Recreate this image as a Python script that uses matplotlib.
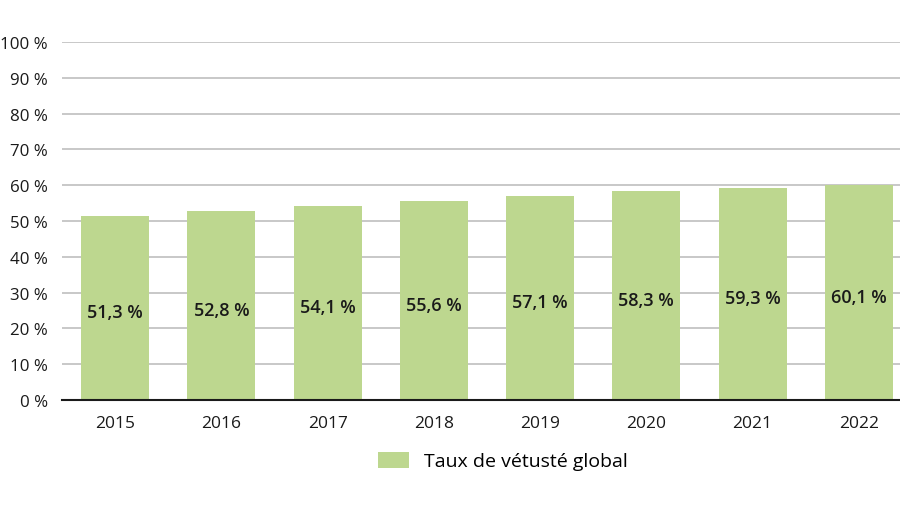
import matplotlib
matplotlib.use("Agg")
import matplotlib.pyplot as plt
from matplotlib.patches import Patch

years = ["2015", "2016", "2017", "2018", "2019", "2020", "2021", "2022"]
values = [51.3, 52.8, 54.1, 55.6, 57.1, 58.3, 59.3, 60.1]
series_name = "Taux de vétusté global"
yticks = [0, 10, 20, 30, 40, 50, 60, 70, 80, 90, 100]

plt.rcParams['font.family'] = ['Open Sans', 'DejaVu Sans']
color = "#bdd78f"

fig = plt.figure(figsize=(9, 5.06), dpi=100)
ax = fig.add_axes([62/900, 1 - 401/506, 850/900, 358/506])
x = list(range(len(years)))
ax.bar(x, values, width=0.64, color=color, zorder=2)
for xi, v in zip(x, values):
    ax.text(xi, v / 2 - 1.2, f"{v:.1f}".replace(".", ",") + " %", ha="center", va="center",
            fontsize=13, fontweight="semibold", color="#1a1a1a", zorder=3)

ax.set_xlim(-0.5, len(years) - 0.5)
ax.set_ylim(0, 100)
ax.set_yticks(yticks)
ax.set_yticklabels([f"{t} %" for t in yticks], fontsize=12.2, color="#1a1a1a")
ax.set_xticks(x)
ax.set_xticklabels(years, fontsize=12.5, color="#1a1a1a")
ax.tick_params(axis="both", length=0)
ax.tick_params(axis="y", pad=10)
ax.tick_params(axis="x", pad=11)
ax.grid(axis="y", color="#bfbfbf", linewidth=1.2, zorder=0)
for s in ["top", "right", "left"]:
    ax.spines[s].set_visible(False)
ax.spines["bottom"].set_color("#1a1a1a")
ax.spines["bottom"].set_linewidth(1.5)
ax.spines["bottom"].set_zorder(4)

fig.legend(handles=[Patch(facecolor=color, label=series_name)], loc="center",
           bbox_to_anchor=(503/900, 1 - 462/506), frameon=False, fontsize=14,
           handlelength=1.6, handleheight=0.9, handletextpad=0.8)

fig.savefig("out.png", dpi=100)
